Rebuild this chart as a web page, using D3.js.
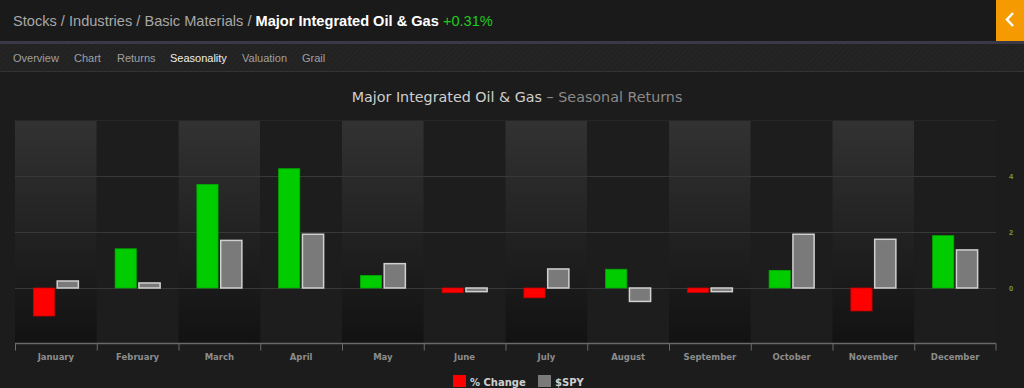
<!DOCTYPE html>
<html>
<head>
<meta charset="utf-8">
<script src="https://cdn.jsdelivr.net/npm/d3@7"></script>
<style>
  html, body { margin: 0; padding: 0; background: #1c1c1c; }
  svg { display: block; }
</style>
</head>
<body>
<div id="chart"></div>
<script>
// seasonal returns
const months = ["January", "February", "March", "April", "May", "June",
                "July", "August", "September", "October", "November", "December"];
const pctChange = [-1.0, 1.4, 3.7, 4.26, 0.45, -0.17, -0.35, 0.67, -0.16, 0.63, -0.82, 1.87];
const spy = [0.25, 0.18, 1.7, 1.92, 0.87, -0.13, 0.68, -0.48, -0.13, 1.92, 1.74, 1.36];
const yTicks = [0, 2, 4];
const navItems = ["Overview", "Chart", "Returns", "Seasonality", "Valuation", "Grail"];
const crumbs = ["Stocks", "Industries", "Basic Materials"];

const W = 1024, H = 388;
const margin = { top: 120, right: 28, bottom: 44, left: 15 };

const svg = d3.select("#chart").append("svg")
    .attr("width", W)
    .attr("height", H)
    .style("font-family", "'Liberation Sans', Arial, sans-serif");

const defs = svg.append("defs");
const grad = defs.append("linearGradient")
    .attr("id", "bandGrad")
    .attr("x1", 0).attr("y1", 0).attr("x2", 0).attr("y2", 1);
grad.append("stop").attr("offset", "0%").attr("stop-color", "#323232");
grad.append("stop").attr("offset", "100%").attr("stop-color", "#121212");

const pat = defs.append("pattern")
    .attr("id", "stripes")
    .attr("width", 4).attr("height", 4)
    .attr("patternUnits", "userSpaceOnUse")
    .attr("patternTransform", "rotate(45)");
pat.append("rect").attr("width", 4).attr("height", 4).attr("fill", "#222");
pat.append("rect").attr("width", 1).attr("height", 4).attr("fill", "#262626");

// page background
svg.append("rect").attr("width", W).attr("height", H).attr("fill", "#1c1c1c");

// header
svg.append("rect").attr("width", W).attr("height", 41).attr("fill", "#1a1a1a");
svg.append("rect").attr("y", 41).attr("width", W).attr("height", 3).attr("fill", "#3a3a46");
svg.append("rect").attr("x", 996).attr("width", 28).attr("height", 41).attr("fill", "#f59a00");
svg.append("path")
    .attr("d", "M1013,13 L1007,19.5 L1013,26")
    .attr("fill", "none").attr("stroke", "#fff").attr("stroke-width", 2.5);

const head = svg.append("text")
    .attr("x", 13).attr("y", 26)
    .style("font-size", "14.6px");
crumbs.forEach((c) => {
    head.append("tspan").attr("fill", "#a8a8a8").text(c);
    head.append("tspan").attr("fill", "#a8a8a8").text(" / ");
});
head.append("tspan").attr("fill", "#fff").style("font-weight", "bold").text("Major Integrated Oil & Gas ");
head.append("tspan").attr("fill", "#1ecc1e").text("+0.31%");

// nav strip
svg.append("rect").attr("y", 44).attr("width", W).attr("height", 28).attr("fill", "url(#stripes)");
svg.append("rect").attr("y", 71).attr("width", W).attr("height", 1).attr("fill", "#333");
const navX = [13, 74, 117, 170, 242, 302];
svg.selectAll("text.nav")
    .data(navItems)
    .join("text")
    .attr("class", "nav")
    .attr("x", (d, i) => navX[i])
    .attr("y", 62)
    .attr("fill", (d) => d == "Seasonality" ? "#eee" : "#a0a0a0")
    .style("font-size", "11px")
    .text((d) => d);

// title
const title = svg.append("text")
    .attr("x", 517).attr("y", 102)
    .attr("text-anchor", "middle")
    .style("font-family", "'DejaVu Sans', sans-serif")
    .style("font-size", "14.3px");
title.append("tspan").attr("fill", "#cfcfcf").text("Major Integrated Oil & Gas");
title.append("tspan").attr("fill", "#8a8a8a").text(" – Seasonal Returns");

// scales
const x = d3.scaleBand()
    .domain(months)
    .range([margin.left, W - margin.right]);

const y = d3.scaleLinear()
    .domain([-2, 6])
    .range([H - margin.bottom, margin.top]);

// alternating column bands
svg.append("g")
    .selectAll("rect")
    .data(months)
    .join("rect")
    .attr("x", (d) => x(d))
    .attr("y", y(6))
    .attr("width", x.bandwidth())
    .attr("height", y(-2) - y(6))
    .attr("fill", (d, i) => i % 2 == 0 ? "url(#bandGrad)" : "#1d1d1d");

// grid
svg.append("g")
    .selectAll("line")
    .data([0, 2, 4, 6])
    .join("line")
    .attr("x1", margin.left)
    .attr("x2", W - margin.right)
    .attr("y1", (d) => y(d) + 0.5)
    .attr("y2", (d) => y(d) + 0.5)
    .attr("stroke", (d) => d == 6 ? "#262626" : "#383838")
    .attr("stroke-width", 1);

// y labels on the right
svg.append("g")
    .selectAll("text")
    .data(yTicks)
    .join("text")
    .attr("x", 1011)
    .attr("y", (d) => y(d) + 3)
    .attr("text-anchor", "middle")
    .attr("fill", "#7c9a35")
    .style("font-size", "7.5px")
    .style("font-weight", "bold")
    .text((d) => d);

// bars
const inner = d3.scaleBand()
    .domain(["chg", "spy"])
    .range([0, 45])
    .paddingInner(0.11);
const off = (x.bandwidth() - 45) / 2;

const groups = svg.append("g")
    .selectAll("g")
    .data(months)
    .join("g")
    .attr("transform", (d) => "translate(" + (x(d) + off) + ",0)");

groups.append("rect")
    .attr("x", inner("chg"))
    .attr("y", (d, i) => y(Math.max(0, pctChange[i])))
    .attr("width", inner.bandwidth())
    .attr("height", (d, i) => Math.abs(y(pctChange[i]) - y(0)))
    .attr("fill", (d, i) => pctChange[i] < 0 ? "#ff0000" : "#00cc00")
    .attr("stroke", (d, i) => pctChange[i] < 0 ? "#c40000" : "#00a800")
    .attr("stroke-width", 0.8);

groups.append("rect")
    .attr("x", inner("spy"))
    .attr("y", (d, i) => y(Math.max(0, spy[i])))
    .attr("width", inner.bandwidth())
    .attr("height", (d, i) => Math.abs(y(spy[i]) - y(0)))
    .attr("fill", "#7a7a7a")
    .attr("stroke", "#d0d0d0")
    .attr("stroke-width", 1.5);

// x axis
const xAxis = svg.append("g")
    .attr("transform", "translate(0," + (y(-2) - 0.5) + ")");
xAxis.append("line")
    .attr("x1", margin.left).attr("x2", W - margin.right)
    .attr("stroke", "#6a6a6a").attr("stroke-width", 1.5);
xAxis.selectAll("line.tick")
    .data(months.concat(["end"]))
    .join("line")
    .attr("class", "tick")
    .attr("x1", (d) => d == "end" ? W - margin.right : x(d) + 0.5)
    .attr("x2", (d) => d == "end" ? W - margin.right : x(d) + 0.5)
    .attr("y1", 0).attr("y2", 7)
    .attr("stroke", "#6a6a6a");
xAxis.selectAll("text")
    .data(months)
    .join("text")
    .attr("x", (d) => x(d) + x.bandwidth() / 2)
    .attr("y", 16)
    .attr("text-anchor", "middle")
    .attr("fill", "#8c8c8c")
    .style("font-family", "'DejaVu Sans', sans-serif")
    .style("font-size", "8.5px")
    .style("font-weight", "bold")
    .text((d) => d);

// legend
const legend = svg.append("g").attr("transform", "translate(453,375)");
const legendItems = [["% Change", "#ff0000", 0], ["$SPY", "#7a7a7a", 85]];
legendItems.forEach((l) => {
    legend.append("rect")
        .attr("x", l[2]).attr("y", 0)
        .attr("width", 13).attr("height", 12)
        .attr("fill", l[1]);
    legend.append("text")
        .attr("x", l[2] + 17).attr("y", 10.5)
        .attr("fill", "#cfcfcf")
        .style("font-family", "'DejaVu Sans', sans-serif")
        .style("font-size", "10px")
        .style("font-weight", "bold")
        .text(l[0]);
});
</script>
</body>
</html>
